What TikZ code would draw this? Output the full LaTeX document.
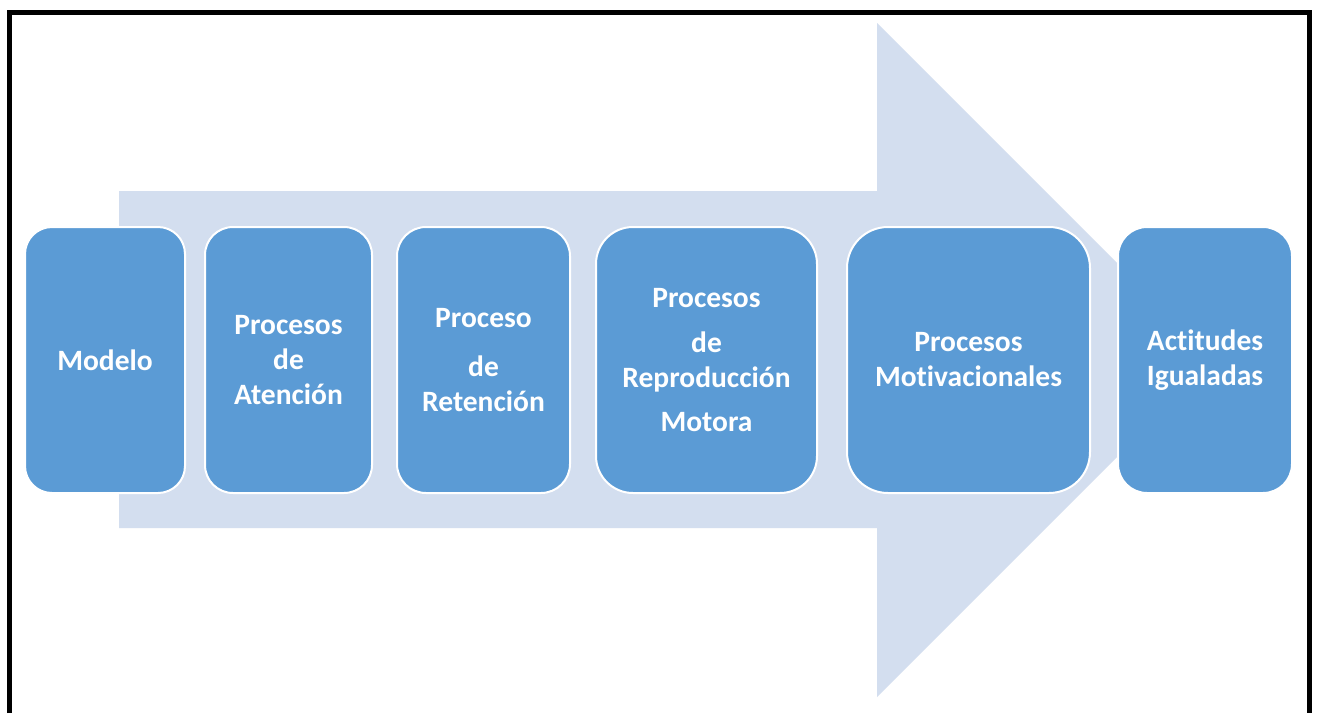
\documentclass[tikz,border=0pt]{standalone}
\usepackage{fontspec}
\setmainfont[Ligatures=NoCommon]{Carlito}
\definecolor{boxblue}{HTML}{5B9BD5}
\definecolor{arrowbg}{HTML}{D3DEEF}
\tikzset{
  stagebox/.style={draw=white, line width=2pt, fill=boxblue, text=white,
    font=\bfseries\fontsize{29.5}{35}\selectfont, align=center,
    inner sep=0pt, minimum height=266pt},
}
\begin{document}
\begin{tikzpicture}[x=1pt,y=-1pt]
\useasboundingbox (0,0) rectangle (1318,713);
\fill[white] (0,0) rectangle (1318,713);
% big background arrow
\fill[arrowbg] (119,191) -- (877,191) -- (877,23) -- (1214,360) -- (877,697) -- (877,528) -- (119,528) -- cycle;
% stage boxes
\node[stagebox, minimum width=160pt, rounded corners=27pt] (modelo) at (105,360) {Modelo};
\node[stagebox, minimum width=167pt, rounded corners=28pt] (atencion) at (288.5,360) {Procesos\\de\\Atención};
\node[stagebox, minimum width=173pt, rounded corners=29pt] (retencion) at (483.5,360) {Proceso\\[14pt]de\\Retención};
\node[stagebox, minimum width=221pt, rounded corners=37pt] (reproduccion) at (706.5,360) {Procesos\\[10pt]de\\Reproducción\\[9pt]Motora};
\node[stagebox, minimum width=243pt, rounded corners=41pt] (motiv) at (968.5,360) {Procesos\\Motivacionales};
\node[stagebox, minimum width=174pt, rounded corners=29pt] (actitudes) at (1205,360) {Actitudes\\Igualadas};
% frame
\draw[black, line width=4.5pt] (9.5,713) -- (9.5,12.5) -- (1309.5,12.5) -- (1309.5,713);
\end{tikzpicture}
\end{document}
